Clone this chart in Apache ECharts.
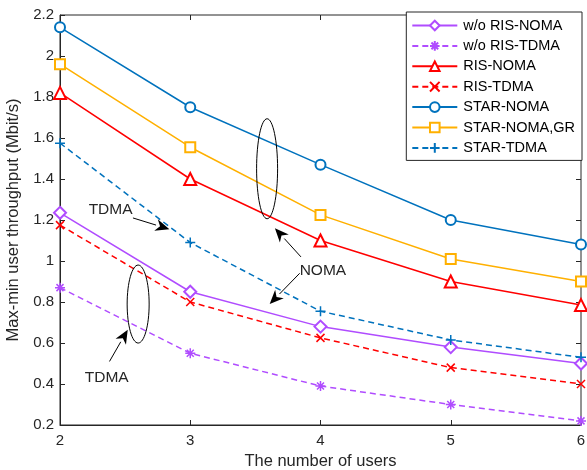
<!DOCTYPE html>
<html>
<head>
<meta charset="utf-8">
<script src="https://cdn.jsdelivr.net/npm/echarts@6/dist/echarts.min.js"></script>
<style>html,body{margin:0;padding:0;background:#fff}#c{width:587px;height:470px}</style>
</head>
<body>
<div id="c"></div>
<script>
var users = [2, 3, 4, 5, 6];
var woRisNoma = [1.235, 0.85, 0.68, 0.58, 0.50];
var woRisTdma = [0.87, 0.55, 0.39, 0.30, 0.22];
var risNoma = [1.82, 1.40, 1.10, 0.90, 0.785];
var risTdma = [1.175, 0.80, 0.625, 0.48, 0.40];
var starNoma = [2.14, 1.75, 1.47, 1.20, 1.08];
var starNomaGR = [1.96, 1.555, 1.225, 1.01, 0.90];
var starTdma = [1.575, 1.09, 0.755, 0.615, 0.53];
var yTicks = [0.2, 0.4, 0.6, 0.8, 1, 1.2, 1.4, 1.6, 1.8, 2, 2.2];

var PURPLE = '#B04CFF', RED = '#FF0000', BLUE = '#0072BD', ORANGE = '#FFB000';
var FONT = 'Liberation Sans, Arial, Helvetica, sans-serif';
var PLUS = 'path://M5,0 L5,10 M0,5 L10,5';
var XMARK = 'path://M0,0 L10,10 M10,0 L0,10';
var STAR = 'path://M5,0 L5,10 M0,5 L10,5 M1.5,1.5 L8.5,8.5 M8.5,1.5 L1.5,8.5';

function pairs(v) { return users.map(function (u, i) { return [u, v[i]]; }); }
function mk(name, data, color, dashed, symbol, size, pathSym) {
  return {
    name: name, type: 'line', data: pairs(data),
    symbol: symbol, symbolSize: size,
    lineStyle: { color: color, width: 1.5, type: dashed ? [6, 4] : 'solid' },
    itemStyle: pathSym ? { color: color, borderColor: color, borderWidth: 1.5 } : { color: color, borderWidth: 1.5 },
    emphasis: { disabled: true },
    animation: false, z: 3
  };
}

var chart = echarts.init(document.getElementById('c'));
var option = {
  animation: false,
  backgroundColor: '#fff',
  grid: { left: 60, right: 6, top: 15, bottom: 45, show: true, borderColor: '#262626', borderWidth: 1,
          containLabel: false, outerBoundsMode: 'none' },
  legend: {
    orient: 'vertical', right: 5, top: 12,
    backgroundColor: '#fff', borderColor: '#262626', borderWidth: 1,
    padding: [6, 7, 5, 5],
    itemWidth: 45, itemHeight: 12, itemGap: 5.4,
    textStyle: { fontFamily: FONT, fontSize: 14.5, lineHeight: 12, color: '#000', padding: [0, 0, 0, 1] },
    data: ['w/o RIS-NOMA', 'w/o RIS-TDMA', 'RIS-NOMA', 'RIS-TDMA', 'STAR-NOMA', 'STAR-NOMA,GR', 'STAR-TDMA']
  },
  xAxis: [{
    type: 'value', min: 2, max: 6, interval: 1,
    name: 'The number of users', nameLocation: 'middle', nameGap: 27,
    nameTextStyle: { fontFamily: FONT, fontSize: 16.5, color: '#262626' },
    axisLine: { lineStyle: { color: '#262626' } },
    axisTick: { inside: true, length: 5, lineStyle: { color: '#262626' } },
    axisLabel: { fontFamily: FONT, fontSize: 15, color: '#262626', margin: 8 },
    splitLine: { show: false }
  }, {
    type: 'value', min: 2, max: 6, interval: 1, position: 'top',
    axisLine: { show: false }, axisLabel: { show: false },
    axisTick: { inside: true, length: 5, lineStyle: { color: '#262626' } },
    splitLine: { show: false }
  }],
  yAxis: [{
    type: 'value', min: 0.2, max: 2.2, interval: 0.2,
    name: 'Max-min user throughput (Mbit/s)', nameLocation: 'middle', nameGap: 33,
    nameTextStyle: { fontFamily: FONT, fontSize: 16.5, color: '#262626' },
    axisLine: { show: true, lineStyle: { color: '#262626' } },
    axisTick: { inside: true, length: 5, lineStyle: { color: '#262626' } },
    axisLabel: { fontFamily: FONT, fontSize: 15, color: '#262626', margin: 6,
      formatter: function (v) { var r = Math.round(v * 10) / 10; return String(r); } },
    splitLine: { show: false }
  }, {
    type: 'value', min: 0.2, max: 2.2, interval: 0.2, position: 'right',
    axisLine: { show: false }, axisLabel: { show: false },
    axisTick: { inside: true, length: 5, lineStyle: { color: '#262626' } },
    splitLine: { show: false }
  }],
  series: [
    mk('w/o RIS-NOMA', woRisNoma, PURPLE, false, 'emptyDiamond', 12),
    mk('w/o RIS-TDMA', woRisTdma, PURPLE, true, STAR, 10, true),
    mk('RIS-NOMA', risNoma, RED, false, 'emptyTriangle', 12),
    mk('RIS-TDMA', risTdma, RED, true, XMARK, 8, true),
    mk('STAR-NOMA', starNoma, BLUE, false, 'emptyCircle', 10),
    mk('STAR-NOMA,GR', starNomaGR, ORANGE, false, 'emptyRect', 10),
    mk('STAR-TDMA', starTdma, BLUE, true, PLUS, 10, true)
  ]
};
chart.setOption(option);

// Annotations placed in data coordinates
function P(x, y) { return chart.convertToPixel({ xAxisIndex: 0, yAxisIndex: 0 }, [x, y]); }
function arrow(from, to) {
  var a = P(from[0], from[1]), b = P(to[0], to[1]);
  var dx = b[0] - a[0], dy = b[1] - a[1], L = Math.sqrt(dx * dx + dy * dy);
  var ux = dx / L, uy = dy / L, hl = 14, hw = 6;
  var bx = b[0] - ux * hl, by = b[1] - uy * hl;
  return [
    { type: 'line', shape: { x1: a[0], y1: a[1], x2: bx, y2: by }, style: { stroke: '#000', lineWidth: 1 }, z: 10 },
    { type: 'polygon', shape: { points: [[b[0], b[1]], [bx - uy * hw, by + ux * hw], [b[0] - ux * hl * 0.7, b[1] - uy * hl * 0.7], [bx + uy * hw, by - ux * hw]] }, style: { fill: '#000' }, z: 10 }
  ];
}
function ellipse(cx, cy, rxPx, ryPx) {
  var c = P(cx, cy);
  return { type: 'ellipse', shape: { cx: c[0], cy: c[1], rx: rxPx, ry: ryPx }, style: { fill: 'none', stroke: '#000', lineWidth: 1 }, z: 10 };
}
function label(x, y, t) {
  var p = P(x, y);
  return { type: 'text', x: p[0], y: p[1], style: { text: t, font: '15.5px ' + FONT, fill: '#262626', align: 'left', verticalAlign: 'middle' }, z: 10 };
}
var g = [];
g.push(ellipse(3.59, 1.45, 10.5, 50));
g.push(ellipse(2.6, 0.79, 11, 39));
g.push(label(2.22, 1.25, 'TDMA'));
g.push(label(2.19, 0.43, 'TDMA'));
g.push(label(3.84, 0.955, 'NOMA'));
g = g.concat(arrow([2.56, 1.21], [2.84, 1.155]));
g = g.concat(arrow([3.85, 1.02], [3.65, 1.16]));
g = g.concat(arrow([3.84, 0.94], [3.61, 0.79]));
g = g.concat(arrow([2.38, 0.51], [2.52, 0.665]));
chart.setOption({ graphic: g });
</script>
</body>
</html>
